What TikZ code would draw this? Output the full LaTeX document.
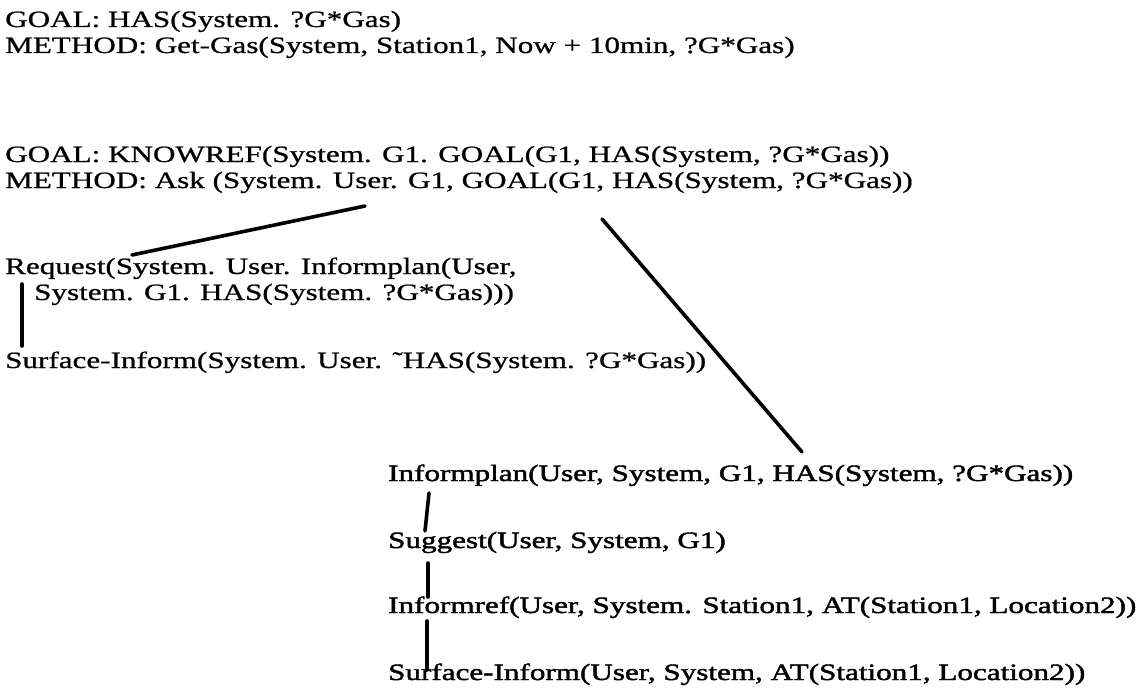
\documentclass[tikz,border=0pt]{standalone}
\usepackage{fontspec}
\setmainfont[FakeStretch=1.33,FakeBold=0.8]{Liberation Serif}
\newfontfamily\lowfont[FakeStretch=1.33,FakeBold=1.8]{Liberation Serif}
\usetikzlibrary{calc}
\begin{document}
\begin{tikzpicture}[x=1pt,y=-1pt,
  txt/.style={anchor=base west, inner sep=0pt, font=\fontsize{23.4}{26}\selectfont},
  low/.style={txt, font=\fontsize{23.4}{26}\selectfont\lowfont},
  conn/.style={line width=3.6pt, line cap=round}]
\useasboundingbox[fill=white] (0,0) rectangle (1137,698);
\node[txt] (g1) at (5,27) {GOAL: HAS(System. ?G*Gas)};
\node[txt] (m1) at (5,53) {METHOD: Get-Gas(System, Station1, Now + 10min, ?G*Gas)};
\node[txt] (g2) at (5,162) {GOAL: KNOWREF(System. G1. GOAL(G1, HAS(System, ?G*Gas))};
\node[txt] (m2) at (5,188) {METHOD: Ask (System. User. G1, GOAL(G1, HAS(System, ?G*Gas))};
\node[txt] (req) at (5,274) {Request(System. User. Informplan(User,};
\node[txt] (req2) at (34,300) {System. G1. HAS(System. ?G*Gas)))};
\node[txt] (sf1) at (5,368) {Surface-Inform(System. User. ˜HAS(System. ?G*Gas))};
\node[low] (ip) at (388,481) {Informplan(User, System, G1, HAS(System, ?G*Gas))};
\node[low] (sg) at (388,548) {Suggest(User, System, G1)};
\node[low] (ir) at (388,613) {Informref(User, System. Station1, AT(Station1, Location2))};
\node[low] (sf2) at (388,680) {Surface-Inform(User, System, AT(Station1, Location2))};
\draw[conn] ($(m2.base west)+(360,18)$) -- ($(req.base west)+(127,-19)$);
\draw[conn] ($(m2.base west)+(597,31)$) -- ($(ip.base west)+(414,-29)$);
\draw[conn] ($(req2.base west)+(-12,-16)$) -- ($(sf1.base west)+(17,-22)$);
\draw[conn] ($(ip.base west)+(41,12)$) -- ($(sg.base west)+(37,-17)$);
\draw[conn] ($(sg.base west)+(40,15)$) -- ($(ir.base west)+(40,-16)$);
\draw[conn] ($(ir.base west)+(39,8)$) -- ($(sf2.base west)+(39,-10)$);
\end{tikzpicture}
\end{document}
